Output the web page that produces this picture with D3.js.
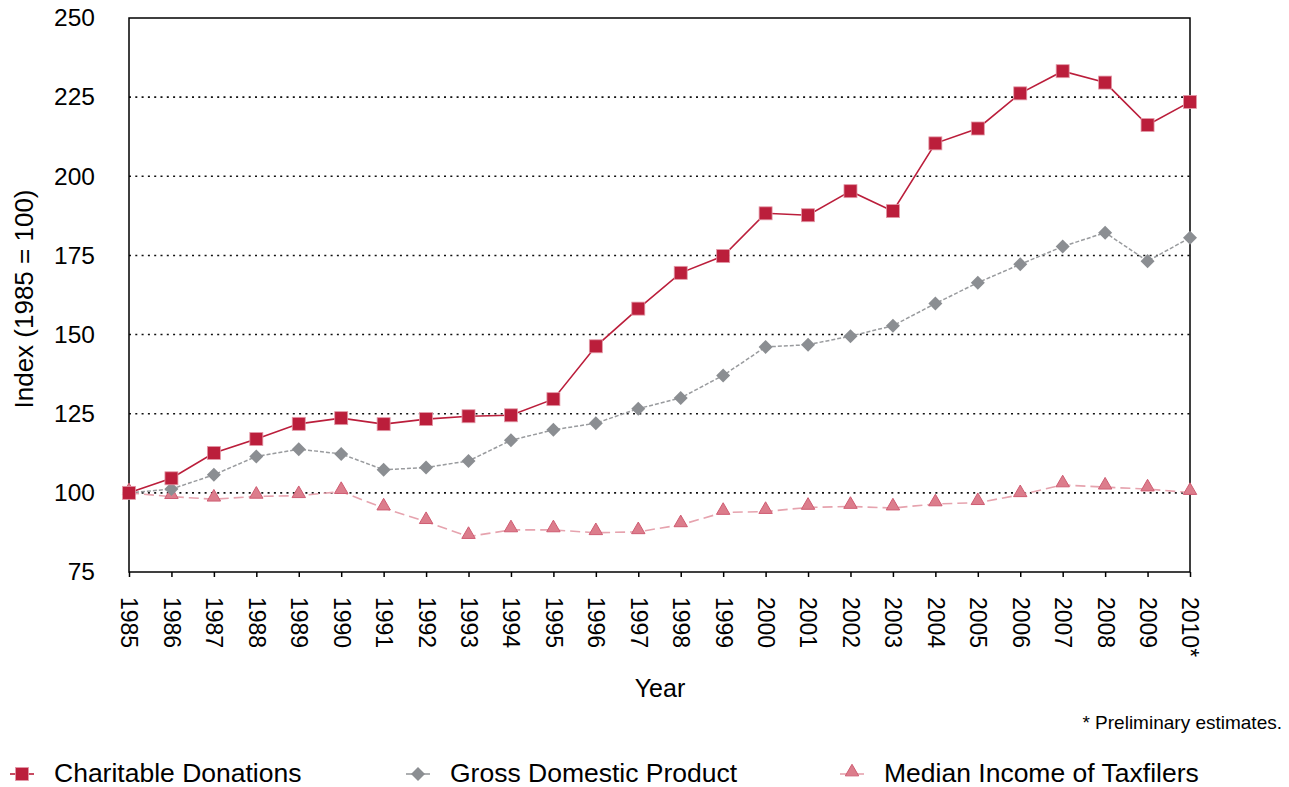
<!DOCTYPE html>
<html>
<head>
  <title>Charitable donations index</title>
  <style type="text/css">
    body { margin: 0; background: #fff; }
    svg { font-family: "Liberation Sans", Arial, sans-serif; }
  </style>
</head>
<body>
  <script type="text/javascript" src="https://cdn.jsdelivr.net/npm/d3@7/dist/d3.min.js"></script>
  <script type="text/javascript">
    // data
    var years = ["1985","1986","1987","1988","1989","1990","1991","1992","1993","1994","1995","1996","1997",
                 "1998","1999","2000","2001","2002","2003","2004","2005","2006","2007","2008","2009","2010*"];
    var donations = [100,104.6,112.6,117,121.8,123.6,121.7,123.3,124.2,124.5,129.6,146.3,158.2,
                     169.5,174.8,188.3,187.7,195.3,189,210.4,215.1,226.2,233.2,229.6,216.2,223.5];
    var gdp = [100,101.2,105.7,111.5,113.8,112.3,107.3,108,110.1,116.6,119.9,122,126.6,
               130,137.1,146.1,146.8,149.5,152.8,159.8,166.4,172.2,177.8,182.2,173.2,180.6];
    var income = [100,98.8,98,98.9,99.1,100.4,95.2,90.9,86.2,88.3,88.3,87.4,87.7,
                  89.9,93.8,94.1,95.4,95.7,95.2,96.5,96.9,99.4,102.5,101.8,101.2,100.1];
    var yTicks = [75,100,125,150,175,200,225,250];
    var seriesNames = ["Charitable Donations","Gross Domestic Product","Median Income of Taxfilers"];

    var w = 1289, h = 787;
    var pLeft = 129, pRight = 1190, pTop = 18, pBottom = 572;

    var svg = d3.select("body").append("svg")
      .attr("width", w)
      .attr("height", h);

    var x = d3.scalePoint().domain(years).range([pLeft, pRight]);
    var y = d3.scaleLinear().domain([75, 250]).range([pBottom, pTop]);

    // dotted gridlines
    svg.append("g")
      .selectAll("line")
      .data(yTicks.filter(d => d > 75 && d < 250))
      .enter().append("line")
      .attr("x1", pLeft).attr("x2", pRight)
      .attr("y1", d => y(d)).attr("y2", d => y(d))
      .attr("stroke", "#111")
      .attr("stroke-width", 1.6)
      .attr("stroke-dasharray", "2,4.3");

    // y axis labels
    var yAxis = d3.axisLeft(y).tickValues(yTicks).tickSize(0).tickPadding(34);
    svg.append("g")
      .attr("transform", "translate(" + pLeft + ",0)")
      .call(yAxis)
      .call(g => g.select(".domain").remove())
      .selectAll("text")
      .attr("font-size", 24.5)
      .attr("fill", "#000")
      .attr("font-family", "Liberation Sans, Arial, sans-serif");

    // x axis ticks and labels
    var xAxis = d3.axisBottom(x).tickSize(5).tickPadding(0);
    var xg = svg.append("g")
      .attr("transform", "translate(0," + pBottom + ")")
      .call(xAxis);
    xg.select(".domain").remove();
    xg.selectAll("line").attr("stroke", "#000").attr("stroke-width", 1.5);
    xg.selectAll("text")
      .attr("font-size", 23)
      .attr("fill", "#000")
      .attr("font-family", "Liberation Sans, Arial, sans-serif")
      .attr("text-anchor", "start")
      .attr("transform", "translate(0,25) rotate(90)")
      .attr("x", 0)
      .attr("y", 0)
      .attr("dy", "0.35em");

    // plot frame
    svg.append("rect")
      .attr("x", pLeft).attr("y", pTop)
      .attr("width", pRight - pLeft).attr("height", pBottom - pTop)
      .attr("fill", "none")
      .attr("stroke", "#000")
      .attr("stroke-width", 1.5);

    var line = d3.line()
      .x((d, i) => x(years[i]))
      .y(d => y(d));

    // median income of taxfilers
    svg.append("path")
      .attr("d", line(income))
      .attr("fill", "none")
      .attr("stroke", "#e6a3ae")
      .attr("stroke-width", 1.6)
      .attr("stroke-dasharray", "10,5");
    svg.append("g").selectAll("path")
      .data(income).enter().append("path")
      .attr("d", d3.symbol().type(d3.symbolTriangle).size(78))
      .attr("transform", (d, i) => "translate(" + x(years[i]) + "," + (y(d) - 2) + ")")
      .attr("fill", "#dc7d8c")
      .attr("stroke", "#cf5c72")
      .attr("stroke-width", 1);

    // gross domestic product
    svg.append("path")
      .attr("d", line(gdp))
      .attr("fill", "none")
      .attr("stroke", "#999b9e")
      .attr("stroke-width", 1.5)
      .attr("stroke-dasharray", "4,2");
    svg.append("g").selectAll("path")
      .data(gdp).enter().append("path")
      .attr("d", d3.symbol().type(d3.symbolDiamond2).size(125))
      .attr("transform", (d, i) => "translate(" + x(years[i]) + "," + y(d) + ")")
      .attr("fill", "#8b8e92");

    // charitable donations
    svg.append("path")
      .attr("d", line(donations))
      .attr("fill", "none")
      .attr("stroke", "#bb1e3b")
      .attr("stroke-width", 1.6);
    svg.append("g").selectAll("rect")
      .data(donations).enter().append("rect")
      .attr("x", (d, i) => x(years[i]) - 6.5)
      .attr("y", d => y(d) - 6.5)
      .attr("width", 13).attr("height", 13)
      .attr("fill", "#bb1e3b")
      .attr("stroke", "#e39aa8")
      .attr("stroke-width", 0.8);

    // axis titles
    svg.append("text")
      .attr("x", 660).attr("y", 697)
      .attr("text-anchor", "middle")
      .attr("font-size", 25)
      .text("Year");
    svg.append("text")
      .attr("transform", "translate(33,299) rotate(-90)")
      .attr("text-anchor", "middle")
      .attr("font-size", 26)
      .text("Index (1985 = 100)");
    svg.append("text")
      .attr("x", 1282).attr("y", 729)
      .attr("text-anchor", "end")
      .attr("font-size", 19)
      .text("* Preliminary estimates.");

    // legend
    var legX = [22, 418, 852];
    var leg = svg.append("g").selectAll("g")
      .data(seriesNames).enter().append("g")
      .attr("transform", (d, i) => "translate(" + legX[i] + ",774)");
    leg.append("line")
      .attr("x1", -12).attr("x2", 12)
      .attr("stroke", (d, i) => ["#bb1e3b", "#999b9e", "#e6a3ae"][i])
      .attr("stroke-width", 1.6);
    leg.each(function(d, i) {
      var g = d3.select(this);
      if (i === 0) {
        g.append("rect").attr("x", -6.5).attr("y", -6.5).attr("width", 13).attr("height", 13)
          .attr("fill", "#bb1e3b").attr("stroke", "#e39aa8").attr("stroke-width", 0.8);
      } else if (i === 1) {
        g.append("path").attr("d", d3.symbol().type(d3.symbolDiamond2).size(125)).attr("fill", "#8b8e92");
      } else {
        g.append("path").attr("d", d3.symbol().type(d3.symbolTriangle).size(78))
          .attr("transform", "translate(0,-2)")
          .attr("fill", "#dc7d8c").attr("stroke", "#cf5c72").attr("stroke-width", 1);
      }
    });
    leg.append("text")
      .attr("x", 32).attr("y", 8)
      .attr("font-size", 26.5)
      .text(d => d);
  </script>
</body>
</html>
